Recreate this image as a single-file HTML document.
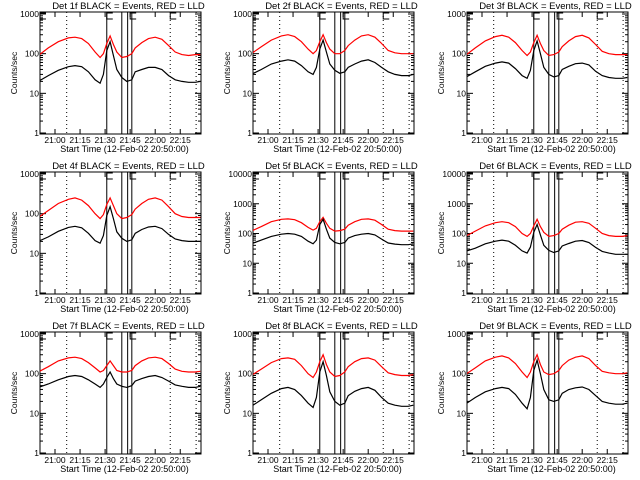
<!DOCTYPE html>
<html><head><meta charset="utf-8"><style>
html,body{margin:0;padding:0;background:#fff}
svg{display:block;font-family:"Liberation Sans",sans-serif}
</style></head><body>
<svg id="c" width="640" height="480" viewBox="0 0 640 480"></svg>
<script>
// minutes after 20:50:00
const T = [0,6,12,18,22,26,30,34,37,39,41,43,45,47,50,53,56,58,62,66,70,74,78,82,86,90,94,97];
const decades = [3,3,3,3,4,4,3,3,3];
const dets = ['1f','2f','3f','4f','5f','6f','7f','8f','9f'];
const red1 = [90,140,200,250,260,240,180,110,80,100,180,280,170,110,80,85,100,140,190,240,260,230,160,110,95,90,95,95];
const blk1 = [20,28,38,47,50,47,35,22,18,30,120,200,90,40,25,20,22,35,40,45,45,40,28,22,20,19,19,20];
const red2 = [100,150,220,280,300,270,200,130,100,120,200,300,190,130,100,100,120,160,220,280,300,260,180,120,105,100,100,100];
const blk2 = [30,40,55,65,70,65,50,35,30,45,130,220,110,55,38,32,35,45,55,65,70,60,45,35,30,28,28,30];
const red3 = [90,140,210,270,290,260,190,120,90,110,190,290,180,120,90,95,110,150,210,270,290,250,170,115,100,95,95,95];
const blk3 = [25,35,48,58,62,58,42,28,24,38,120,210,100,45,30,26,28,40,48,56,58,52,36,28,25,24,24,25];
const red4 = [80,120,180,230,250,220,160,100,75,95,170,250,160,100,75,80,95,130,180,230,250,220,150,100,85,80,80,80];
const blk4 = [20,26,36,45,48,44,32,21,18,28,90,150,75,35,24,20,22,32,40,46,48,42,30,23,21,20,20,20];
const red5 = [120,170,250,300,310,290,230,160,130,150,250,350,220,150,120,125,140,190,250,300,310,280,200,140,125,120,120,120];
const blk5 = [45,60,80,95,100,95,80,55,45,60,200,300,140,70,50,45,50,70,85,95,100,90,65,48,44,42,42,45];
const red6 = [80,120,180,230,250,230,170,100,80,100,180,300,170,110,80,85,100,140,190,240,250,220,150,100,85,80,80,85];
const blk6 = [25,32,45,55,60,55,40,26,22,35,110,200,90,40,27,23,26,38,46,55,58,50,34,25,22,20,20,20];
const red7 = [110,150,210,250,260,240,190,140,110,120,160,210,160,120,110,110,120,160,210,250,260,240,180,130,115,110,110,115];
const blk7 = [45,55,70,85,90,85,70,55,45,55,80,110,75,55,48,45,50,65,75,85,90,80,65,52,48,45,45,48];
const red8 = [90,130,190,240,250,230,160,100,80,110,200,300,170,110,85,90,110,150,200,240,250,220,150,105,95,90,90,95];
const blk8 = [15,22,32,42,45,40,28,18,14,25,110,200,90,35,20,16,18,28,36,42,45,38,25,18,16,15,15,16];
const red9 = [95,140,210,260,280,250,180,110,80,110,200,300,170,110,95,100,120,160,220,260,280,240,160,115,105,100,100,105];
const blk9 = [17,25,35,42,45,42,30,18,13,25,120,220,100,40,22,20,22,32,40,44,46,40,28,20,18,17,17,18];
const reds = [red1,red2,red3,red4,red5,red6,red7,red8,red9];
const blks = [blk1,blk2,blk3,blk4,blk5,blk6,blk7,blk8,blk9];
const xTickLabels = ['21:00','21:15','21:30','21:45','22:00','22:15'];
const xTickMins = [10,25,40,55,70,85];
const solidLines = [41,50,53.5,56];
const dottedLines = [17,79,94.5];
const markers = [[1,'E'],[41,'F'],[55,'F'],[79,'E']];

const NS='http://www.w3.org/2000/svg';
const svg=document.getElementById('c');
function mk(tag,attrs,parent){const e=document.createElementNS(NS,tag);for(const k in attrs)e.setAttribute(k,attrs[k]);(parent||svg).appendChild(e);return e;}
const L=40,R=201,TOP=12,BOT=134;
for(let i=0;i<9;i++){
  const ox=[0,213,427][i%3], oy=[0,160,320][Math.floor(i/3)];
  const g=mk('g',{transform:`translate(${ox},${oy})`});
  
  
  const dec=decades[i], span=(BOT-1-14)/dec;
  const xs=t=>38.3+t*1.67;
  const ys=v=>BOT-1-Math.log10(v)*span;
  const clip=mk('clipPath',{id:'cl'+i},g);
  mk('rect',{x:L,y:TOP,width:R-L,height:BOT-TOP},clip);
  // title
  const tt=mk('text',{x:(L+R)/2+8,y:9,'font-size':9.5,'text-anchor':'middle'},g);
  tt.textContent='Det '+dets[i]+' BLACK = Events, RED = LLD';
  
  
  // box
  const bx=mk('rect',{x:L,y:TOP,width:R-L,height:BOT-TOP,fill:'none',stroke:'#000','stroke-width':1},g);
  
  
  // y ticks
  for(let d=0;d<=dec;d++){
    const y=ys(Math.pow(10,d));
    mk('line',{x1:L,x2:L+6,y1:y,y2:y,stroke:'#000'},g);
    mk('line',{x1:R-6,x2:R,y1:y,y2:y,stroke:'#000'},g);
    const lb=mk('text',{x:L-1,y:y+3,'font-size':8.5,'text-anchor':'end'},g);
    lb.textContent=String(Math.pow(10,d));
    
    
    if(d<dec)for(let m=2;m<10;m++){const yy=ys(m*Math.pow(10,d));
      mk('line',{x1:L,x2:L+3,y1:yy,y2:yy,stroke:'#000'},g);
      mk('line',{x1:R-3,x2:R,y1:yy,y2:yy,stroke:'#000'},g);}
  }
  // x ticks
  xTickMins.forEach((t,k)=>{const x=xs(t);
    mk('line',{x1:x,x2:x,y1:BOT,y2:BOT-5,stroke:'#000'},g);
    mk('line',{x1:x,x2:x,y1:TOP,y2:TOP+5,stroke:'#000'},g);
    const lb=mk('text',{x:x,y:BOT+9,'font-size':8.5,'text-anchor':'middle'},g);
    lb.textContent=xTickLabels[k];
    
    
  });
  const xl=mk('text',{x:(L+R)/2+4,y:BOT+18,'font-size':9,'text-anchor':'middle'},g);
  xl.textContent='Start Time (12-Feb-02 20:50:00)';
  
  
  const yl=mk('text',{x:0,y:0,'font-size':8.5,'text-anchor':'middle',transform:`translate(17,${(TOP+BOT)/2}) rotate(-90)`},g);
  yl.textContent='Counts/sec';
  
  
  // dotted / solid lines
  dottedLines.forEach(t=>{const x=xs(t);
    const l=mk('line',{x1:x,x2:x,y1:TOP,y2:BOT,stroke:'#000','stroke-dasharray':'1,3'},g);
    
    });
  solidLines.forEach(t=>{const x=xs(t);
    const l=mk('line',{x1:x,x2:x,y1:TOP,y2:BOT,stroke:'#000'},g);
    
    });
  markers.forEach(([t,c])=>{const x=xs(t);
    const p=mk('path',{d:`M${x+6},${TOP+1}H${x}V${TOP+7}H${x+6}`,fill:'none',stroke:'#000'},g);
    
    });
  // series
  const ser=[[reds[i],'#ff0000','red-lld-series'],[blks[i],'#000','black-events-series']];
  ser.forEach(([v,col,nm])=>{
    const d=v.map((val,k)=>(k?'L':'M')+xs(T[k]).toFixed(1)+','+ys(val).toFixed(1)).join('');
    const p=mk('path',{d:d,fill:'none',stroke:col,'stroke-width':1.2,'clip-path':`url(#cl${i})`},g);
    
    
  });
}
</script>
</body></html>
